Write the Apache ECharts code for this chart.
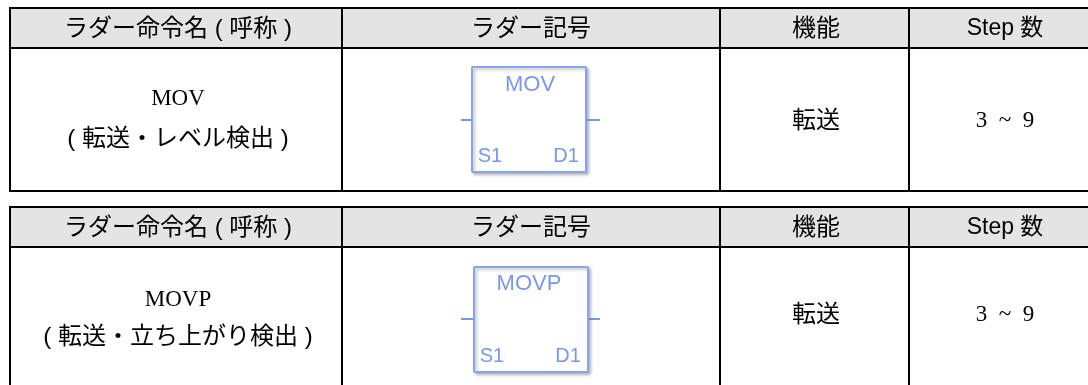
<!DOCTYPE html>
<html>
<head>
<meta charset="utf-8">
<style>html,body{margin:0;padding:0;background:#fff}#container{width:1088px;height:385px}</style>
<script src="https://cdn.jsdelivr.net/npm/echarts@6/dist/echarts.min.js"></script>
</head>
<body>
<div id="container"></div>
<script>
var headers = ['ラダー命令名 ( 呼称 )', 'ラダー記号', '機能', 'Step 数'];
var names = ['MOV', 'MOVP'];
var descriptions = ['( 転送・レベル検出 )', '( 転送・立ち上がり検出 )'];
var functions = ['転送', '転送'];
var steps = ['3  ~  9', '3  ~  9'];
var symbolTitles = ['MOV', 'MOVP'];
var symbolIn = ['S1', 'S1'];
var symbolOut = ['D1', 'D1'];

var sans = '"Liberation Sans", "Noto Sans CJK JP", sans-serif';
var serif = '"Liberation Serif", serif';
var blue = '#7a97ef';

var dom = document.getElementById('container');
var myChart = echarts.init(dom, null, { renderer: 'canvas' });

var colX = [10, 342, 720, 909, 1100];
var colCenter = [178, 531, 816, 1005];
var tables = [
  { top: 8, head: 48, bottom: 191, nameY: 99, descY: 139, midY: 121,
    box: [472, 67, 114, 105], stubY: 120, titleY: 85, pinY: 156 },
  { top: 207, head: 247, bottom: 400, nameY: 300, descY: 337, midY: 315,
    box: [474, 267, 114, 105], stubY: 319, titleY: 284, pinY: 356 }
];

function text(x, y, str, font, size, color) {
  return {
    type: 'text', x: x, y: y,
    style: { text: str, fontFamily: font, fontSize: size, fill: color || '#000', align: 'center', verticalAlign: 'middle' }
  };
}
function line(x1, y1, x2, y2, color, w) {
  return {
    type: 'line',
    shape: { x1: x1, y1: y1, x2: x2, y2: y2 },
    style: { stroke: color || '#000', lineWidth: w || 2 }
  };
}

var els = [];
tables.forEach(function (t, i) {
  var b = t.box;
  els.push({
    type: 'rect',
    shape: { x: colX[0], y: t.top, width: colX[4] - colX[0], height: t.head - t.top },
    style: { fill: '#e4e4e4' }
  });
  // grid lines
  [t.top, t.head, t.bottom].forEach(function (y) {
    els.push(line(colX[0] - 1, y, colX[4], y));
  });
  colX.slice(0, 4).forEach(function (x) {
    els.push(line(x, t.top, x, t.bottom));
  });
  // header row
  headers.forEach(function (h, c) {
    els.push(text(colCenter[c], t.top + 21, h, sans, c === 3 ? 23 : 24));
  });
  // first column
  els.push(text(colCenter[0], t.nameY, names[i], serif, 23));
  els.push(text(colCenter[0], t.descY, descriptions[i], sans, 24));
  // ladder symbol
  els.push(line(461, t.stubY, b[0], t.stubY, blue, 2));
  els.push(line(b[0] + b[2], t.stubY, 600, t.stubY, blue, 2));
  els.push({
    type: 'rect',
    shape: { x: b[0], y: b[1], width: b[2], height: b[3], r: 1 },
    style: {
      fill: '#fff', stroke: '#86a3f1', lineWidth: 2,
      shadowBlur: 3, shadowOffsetX: 2, shadowOffsetY: 2, shadowColor: 'rgba(110,110,110,0.45)'
    }
  });
  els.push(text(b[0] + b[2] / 2 + (i === 0 ? 1 : -2), t.titleY, symbolTitles[i], sans, 22, blue));
  els.push(text(b[0] + 18, t.pinY, symbolIn[i], sans, 20, blue));
  els.push(text(b[0] + 94, t.pinY, symbolOut[i], sans, 20, blue));
  // function and step columns
  els.push(text(colCenter[2], t.midY, functions[i], sans, 24));
  els.push(text(colCenter[3], t.midY, steps[i], serif, 23));
});

var option = {
  backgroundColor: '#fff',
  animation: false,
  graphic: { elements: els }
};

myChart.setOption(option);
window.addEventListener('resize', myChart.resize);
</script>
</body>
</html>
